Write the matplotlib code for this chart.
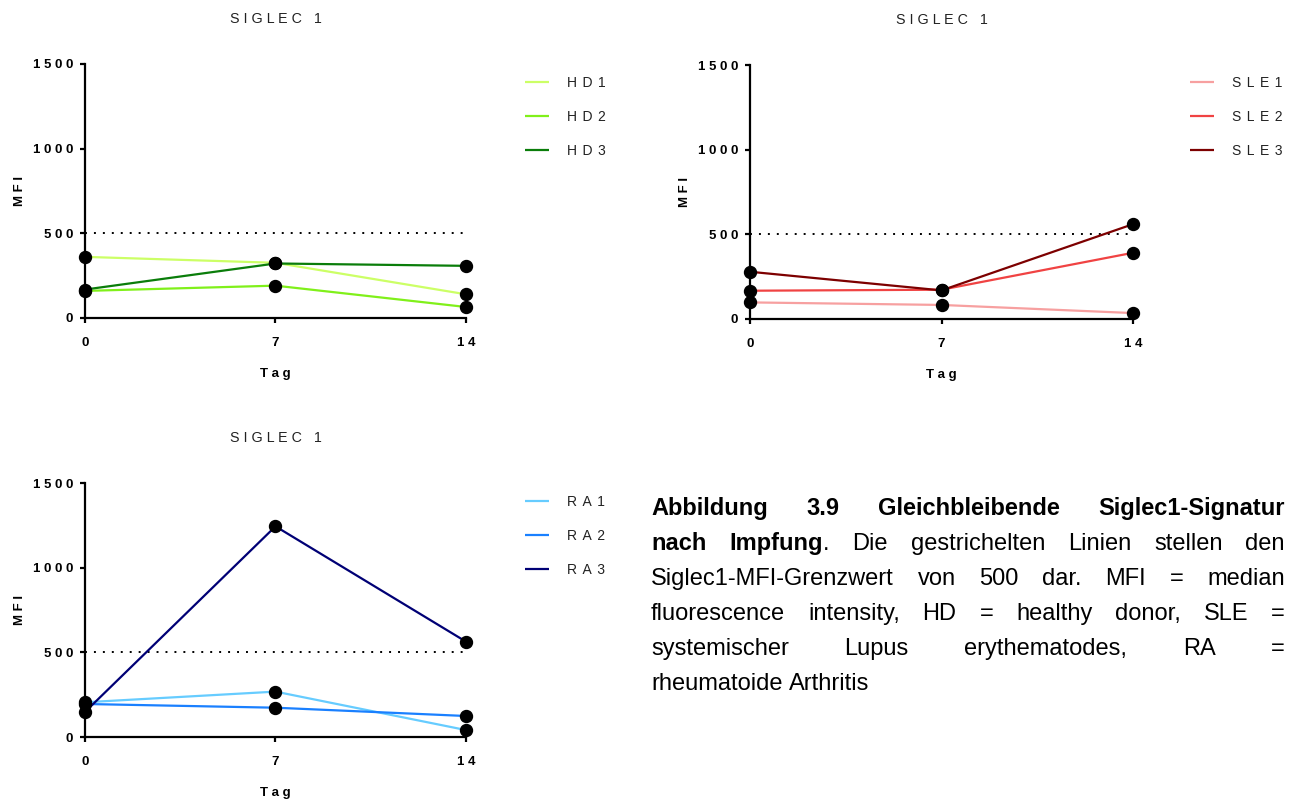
import matplotlib
matplotlib.use("Agg")
import matplotlib.pyplot as plt

plt.rcParams["font.family"] = ["Liberation Sans", "DejaVu Sans"]

# ---- data -------------------------------------------------------------
days = [0, 7, 14]
y_ticks = [0, 500, 1000, 1500]
cutoff = 500
panel_title = "SIGLEC 1"

hd_labels = ["HD1", "HD2", "HD3"]
hd1 = [361, 326, 140]
hd2 = [160, 191, 65]
hd3 = [168, 322, 308]

sle_labels = ["SLE1", "SLE2", "SLE3"]
sle1 = [98, 83, 35]
sle2 = [167, 173, 391]
sle3 = [279, 169, 560]

ra_labels = ["RA1", "RA2", "RA3"]
ra1 = [205, 268, 41]
ra2 = [195, 173, 124]
ra3 = [148, 1244, 563]

hd_colors = ["#ccff66", "#80f01a", "#0a7d0a"]
sle_colors = ["#f7a0a0", "#f04343", "#7d0000"]
ra_colors = ["#66ccff", "#1a80ff", "#000075"]

W, H = 1295, 800
fig = plt.figure(figsize=(W / 100, H / 100), dpi=100)

THIN = "\u2009"


def spaced(s, sep=" "):
    return sep.join(list(s))


def px_rect(x0, x1, ytop, ybot):
    return [x0 / W, 1 - ybot / H, (x1 - x0) / W, (ybot - ytop) / H]


def panel(rect, labels, series, colors, leg_xy):
    ax = fig.add_axes(rect)
    for lab, vals, col in zip(labels, series, colors):
        ax.plot(days, vals, color=col, lw=1.6, label=spaced(lab, THIN + THIN),
                clip_on=False, zorder=3, solid_capstyle="butt")
    for vals in series:
        ax.plot(days, vals, ls="none", marker="o", ms=8.6, mfc="black",
                mec="black", clip_on=False, zorder=4)
    ax.plot([days[0], days[-1]], [cutoff, cutoff], color="black", lw=1.4,
            ls=(0, (1, 3.6)), zorder=2, clip_on=False)

    ax.set_xlim(days[0], days[-1])
    ax.set_ylim(y_ticks[0], y_ticks[-1])
    for s in ("top", "right"):
        ax.spines[s].set_visible(False)
    for s in ("left", "bottom"):
        ax.spines[s].set_linewidth(1.6)
        ax.spines[s].set_capstyle("projecting")

    ax.set_xticks(days)
    ax.set_xticklabels([spaced(str(d)) for d in days],
                       fontweight="bold", fontsize=9.5)
    ax.set_yticks(y_ticks)
    ax.set_yticklabels([spaced(str(v)) for v in y_ticks],
                       fontweight="bold", fontsize=9.5)
    ax.tick_params(axis="x", length=3.8, width=1.6, pad=10.0, direction="out")
    ax.tick_params(axis="y", length=3.8, width=1.6, pad=4.6, direction="out")

    ax.set_ylabel(spaced("MFI"), fontweight="bold", fontsize=9.5)
    ax.yaxis.set_label_coords(-0.155, 0.5)
    ax.set_xlabel(spaced("Tag"), fontweight="bold", fontsize=9.5)
    ax.xaxis.set_label_coords(0.5, -0.195)

    ax.set_title(spaced(panel_title), fontsize=10.3, pad=29.5,
                 color="#222222")

    fig.legend(handles=ax.get_lines()[:3], loc="upper left",
               bbox_to_anchor=(leg_xy[0] / W, 1 - leg_xy[1] / H),
               frameon=False, fontsize=10, handlelength=1.75,
               handletextpad=1.3, labelspacing=1.45, borderpad=0,
               borderaxespad=0, labelcolor="#222222")
    return ax


panel(px_rect(85, 466, 64, 318), hd_labels, [hd1, hd2, hd3], hd_colors,
      (525, 76))
panel(px_rect(750, 1133, 65, 319), sle_labels, [sle1, sle2, sle3],
      sle_colors, (1190, 76))
panel(px_rect(85, 466, 483, 737), ra_labels, [ra1, ra2, ra3], ra_colors,
      (525, 495))

# ---- caption (justified) ---------------------------------------------
caption_lines = [
    [[("Abbildung", True)], [("3.9", True)], [("Gleichbleibende", True)],
     [("Siglec1-Signatur", True)]],
    [[("nach", True)], [("Impfung", True), (".", False)], [("Die", False)],
     [("gestrichelten", False)], [("Linien", False)], [("stellen", False)],
     [("den", False)]],
    [[(w, False)] for w in "Siglec1-MFI-Grenzwert von 500 dar. MFI = median".split()],
    [[(w, False)] for w in "fluorescence intensity, HD = healthy donor, SLE =".split()],
    [[(w, False)] for w in "systemischer Lupus erythematodes, RA =".split()],
    [[(w, False)] for w in "rheumatoide Arthritis".split()],
]

cap_left, cap_right = 651, 1285
cap_base0, cap_pitch = 515, 35.0
cap_fs = 17.0

renderer = fig.canvas.get_renderer()


def seg_width(txt, bold):
    t = fig.text(0, 0, txt, fontsize=cap_fs,
                 fontweight="bold" if bold else "normal")
    w = t.get_window_extent(renderer).width
    t.remove()
    return w


space_w = seg_width("a a", False) - seg_width("aa", False)

for i, words in enumerate(caption_lines):
    widths = [sum(seg_width(s, b) for s, b in word) for word in words]
    last = i == len(caption_lines) - 1
    if last or len(words) == 1:
        gap = space_w
    else:
        gap = (cap_right - cap_left - sum(widths)) / (len(words) - 1)
    x = cap_left
    ybase = cap_base0 + i * cap_pitch
    for word, wdt in zip(words, widths):
        xx = x
        for s, b in word:
            fig.text(xx / W, 1 - ybase / H, s, fontsize=cap_fs,
                     fontweight="bold" if b else "normal",
                     va="baseline", ha="left", color="black")
            xx += seg_width(s, b)
        x += wdt + gap

fig.savefig("out.png", dpi=100)
